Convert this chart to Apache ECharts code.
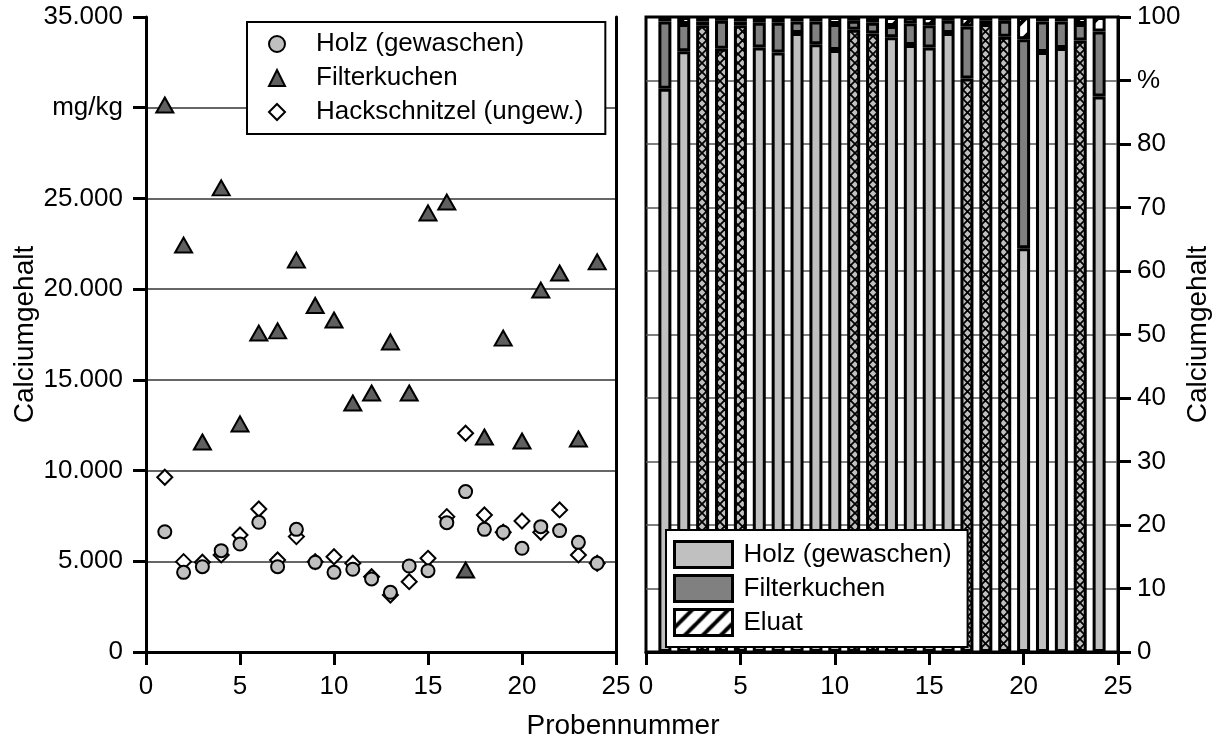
<!DOCTYPE html>
<html><head><meta charset="utf-8">
<script src="https://cdn.jsdelivr.net/npm/echarts@6/dist/echarts.min.js"></script>
<style>html,body{margin:0;padding:0;background:#fff}#c{width:1218px;height:746px}</style>
</head><body><div id="c"></div>
<script>
// ---- data ----
const samples = [1,2,3,4,5,6,7,8,9,10,11,12,13,14,15,16,17,18,19,20,21,22,23,24];
// left panel: Calciumgehalt in mg/kg
const holzGewaschen = [6630,4390,4700,5585,5950,7150,4700,6760,4940,4390,4560,4025,3290,4740,4480,7130,8840,6760,6600,5715,6910,6690,6045,4890];
const filterkuchen  = [30150,22430,11575,25580,12570,17580,17700,21600,19100,18300,13725,14275,17090,14275,24200,24800,4520,11850,17300,11630,19950,20890,11740,21500];
const hackschnitzel = [9630,4980,4950,5350,6450,7880,5070,6360,4980,5250,4890,4150,3140,3875,5165,7460,12055,7550,6600,7220,6600,7830,5350,4890];
// right panel: share in %
const holzPct   = [88.7,94.6,98.7,95.0,98.7,95.2,94.4,97.5,95.7,94.8,98.0,97.4,96.8,95.6,95.2,97.5,90.3,98.9,96.9,63.6,94.5,95.1,96.3,87.5];
const filterPct = [10.6,4.3,0.6,4.4,0.6,3.9,4.7,1.8,3.6,4.1,1.4,1.7,1.8,3.4,3.5,1.9,8.2,0.5,2.5,32.9,4.8,4.2,2.6,10.2];
const eluatPct  = [0.7,1.1,0.7,0.6,0.7,0.9,0.9,0.7,0.7,1.1,0.6,0.9,1.4,1.0,1.3,0.6,1.5,0.6,0.6,3.5,0.7,0.7,1.1,2.3];
// samples whose Holz segment is drawn cross-hatched in the original
const crossHatchedSamples = [3,4,5,11,12,17,18,19,23];
// tick labels
const xTickLabels = ['0','5','10','15','20','25'];
const leftYLabels = ['0','5.000','10.000','15.000','20.000','25.000','mg/kg','35.000'];
const rightYLabels = ['0','10','20','30','40','50','60','70','80','%','100'];
const legendLeft = ['Holz (gewaschen)','Filterkuchen','Hackschnitzel (ungew.)'];
const legendRight = ['Holz (gewaschen)','Filterkuchen','Eluat'];
const yTitle = 'Calciumgehalt';
const xTitle = 'Probennummer';

// ---- patterns ----
function crossPattern(){
  const s = 9, c = document.createElement('canvas'); c.width = s; c.height = s;
  const g = c.getContext('2d'); g.fillStyle = '#c0c0c0'; g.fillRect(0,0,s,s);
  g.strokeStyle = '#000'; g.lineWidth = 1.8;
  g.beginPath();
  g.moveTo(-1,-1); g.lineTo(s+1,s+1);
  g.moveTo(s+1,-1); g.lineTo(-1,s+1);
  g.stroke();
  return {image: c, repeat: 'repeat'};
}
function diagPattern(){
  const s = 18, c = document.createElement('canvas'); c.width = s; c.height = s;
  const g = c.getContext('2d'); g.fillStyle = '#fff'; g.fillRect(0,0,s,s);
  g.strokeStyle = '#000'; g.lineWidth = 4;
  g.beginPath();
  g.moveTo(-2,s+2); g.lineTo(s+2,-2);
  g.moveTo(-s/2-2,s/2+2); g.lineTo(s/2+2,-s/2-2);
  g.moveTo(s/2-2,s+s/2+2); g.lineTo(s+s/2+2,s/2-2);
  g.stroke();
  return {image: c, repeat: 'repeat'};
}
const cross = crossPattern();
const diag = diagPattern();

const C_LIGHT = '#c0c0c0', C_MID = '#808080', C_DARK = '#5f5f5f';
const FONT = "'Liberation Sans', Arial, sans-serif";
const txt = {fontFamily: FONT, fontSize: 26, color: '#000'};
const axisLine = {show: true, onZero: false, lineStyle: {color: '#000', width: 3}};
const axisTick = {show: true, inside: false, length: 13, lineStyle: {color: '#000', width: 3}};

const chart = echarts.init(document.getElementById('c'), null, {renderer: 'canvas'});
chart.setOption({
  animation: false,
  backgroundColor: '#fff',
  textStyle: {fontFamily: FONT},
  grid: [
    {left: 146, top: 17, width: 470, height: 635, outerBoundsMode: 'none', containLabel: false},
    {left: 646, top: 17, width: 472, height: 635, outerBoundsMode: 'none', containLabel: false,
     show: true, borderColor: '#000', borderWidth: 3, backgroundColor: 'transparent'}
  ],
  xAxis: [
    {gridIndex: 0, type: 'value', min: 0, max: 25, interval: 5, axisLine, axisTick,
     splitLine: {show: false},
     axisLabel: {...txt, margin: 22, formatter: v => xTickLabels[v/5]}},
    {gridIndex: 1, type: 'value', min: 0, max: 25, interval: 5, axisLine, axisTick,
     splitLine: {show: false},
     axisLabel: {...txt, margin: 22, formatter: v => xTickLabels[v/5]}}
  ],
  yAxis: [
    {gridIndex: 0, type: 'value', position: 'left', min: 0, max: 35000, interval: 5000,
     axisLine, axisTick,
     splitLine: {show: true, showMinLine: false, showMaxLine: false, lineStyle: {color: '#333', width: 1.5}},
     axisLabel: {...txt, margin: 23, formatter: v => leftYLabels[Math.round(v/5000)]},
     name: yTitle, nameLocation: 'middle', nameRotate: 90, nameGap: 107,
     nameTextStyle: {fontFamily: FONT, fontSize: 28, color: '#000'}},
    {gridIndex: 0, type: 'value', position: 'right', min: 0, max: 35000, interval: 5000,
     axisLine, axisTick: {show: false}, axisLabel: {show: false}, splitLine: {show: false}},
    {gridIndex: 1, type: 'value', position: 'right', min: 0, max: 100, interval: 10,
     axisLine, axisTick,
     splitLine: {show: true, showMinLine: false, showMaxLine: false, lineStyle: {color: '#555', width: 1.5}},
     axisLabel: {...txt, margin: 19, formatter: v => rightYLabels[Math.round(v/10)]},
     name: yTitle, nameLocation: 'middle', nameRotate: 90, nameGap: 66,
     nameTextStyle: {fontFamily: FONT, fontSize: 28, color: '#000'}}
  ],
  legend: [
    {data: [
       {name: legendLeft[0], icon: 'circle', itemStyle: {color: C_LIGHT}},
       {name: legendLeft[1], icon: 'triangle', itemStyle: {color: C_DARK}},
       {name: legendLeft[2], icon: 'diamond', itemStyle: {color: '#fff'}}],
     orient: 'vertical', left: 247, top: 22,
     backgroundColor: '#fff', borderColor: '#000', borderWidth: 2, borderRadius: 0,
     padding: [8, 22, 8, 21], itemGap: 6, itemWidth: 16, itemHeight: 16, selectedMode: false,
     itemStyle: {borderColor: '#000', borderWidth: 2},
     textStyle: {...txt, lineHeight: 28, padding: [0, 0, 0, 26]}},
    {data: [
       {name: legendRight[0], itemStyle: {color: C_LIGHT}},
       {name: legendRight[1], itemStyle: {color: C_MID}},
       {name: legendRight[2], itemStyle: {color: diag}}],
     orient: 'vertical', left: 666, top: 530,
     backgroundColor: '#fff', borderColor: '#000', borderWidth: 2, borderRadius: 0,
     padding: [10, 16, 10, 7], itemGap: 5, itemWidth: 58, itemHeight: 26, selectedMode: false,
     icon: 'rect',
     itemStyle: {borderColor: '#000', borderWidth: 3},
     textStyle: {...txt, lineHeight: 28, padding: [0, 0, 0, 6]}}
  ],
  graphic: [
    {type: 'text', x: 623, y: 712, z: 10,
     style: {text: xTitle, font: '28px ' + FONT, fill: '#000', textAlign: 'center'}}
  ],
  series: [
    {name: legendLeft[2], type: 'scatter', xAxisIndex: 0, yAxisIndex: 0, z: 2,
     symbol: 'diamond', symbolSize: 15,
     itemStyle: {color: '#fff', borderColor: '#000', borderWidth: 2, opacity: 1},
     data: samples.map((s, i) => [s, hackschnitzel[i]])},
    {name: legendLeft[1], type: 'scatter', xAxisIndex: 0, yAxisIndex: 0, z: 3,
     symbol: 'triangle', symbolSize: [17, 15],
     itemStyle: {color: C_DARK, borderColor: '#000', borderWidth: 2, opacity: 1},
     data: samples.map((s, i) => [s, filterkuchen[i]])},
    {name: legendLeft[0], type: 'scatter', xAxisIndex: 0, yAxisIndex: 0, z: 4,
     symbol: 'circle', symbolSize: 13,
     itemStyle: {color: C_LIGHT, borderColor: '#000', borderWidth: 2, opacity: 1},
     data: samples.map((s, i) => [s, holzGewaschen[i]])},

    // bars: value first (dim 0 -> y, stacked), sample number second (dim 1 -> x)
    {name: legendRight[0], type: 'bar', xAxisIndex: 1, yAxisIndex: 2, stack: 'pct', barWidth: 13,
     encode: {x: 1, y: 0},
     itemStyle: {color: C_LIGHT, borderColor: '#000', borderWidth: 3},
     data: samples.map((s, i) => crossHatchedSamples.includes(s)
       ? {value: [holzPct[i], s], itemStyle: {color: cross}}
       : {value: [holzPct[i], s]})},
    {name: legendRight[1], type: 'bar', xAxisIndex: 1, yAxisIndex: 2, stack: 'pct', barWidth: 13,
     encode: {x: 1, y: 0},
     itemStyle: {color: C_MID, borderColor: '#000', borderWidth: 3},
     data: samples.map((s, i) => [filterPct[i], s])},
    {name: legendRight[2], type: 'bar', xAxisIndex: 1, yAxisIndex: 2, stack: 'pct', barWidth: 13,
     encode: {x: 1, y: 0},
     itemStyle: {color: diag, borderColor: '#000', borderWidth: 3},
     data: samples.map((s, i) => [eluatPct[i], s])}
  ]
});
</script>
</body></html>
